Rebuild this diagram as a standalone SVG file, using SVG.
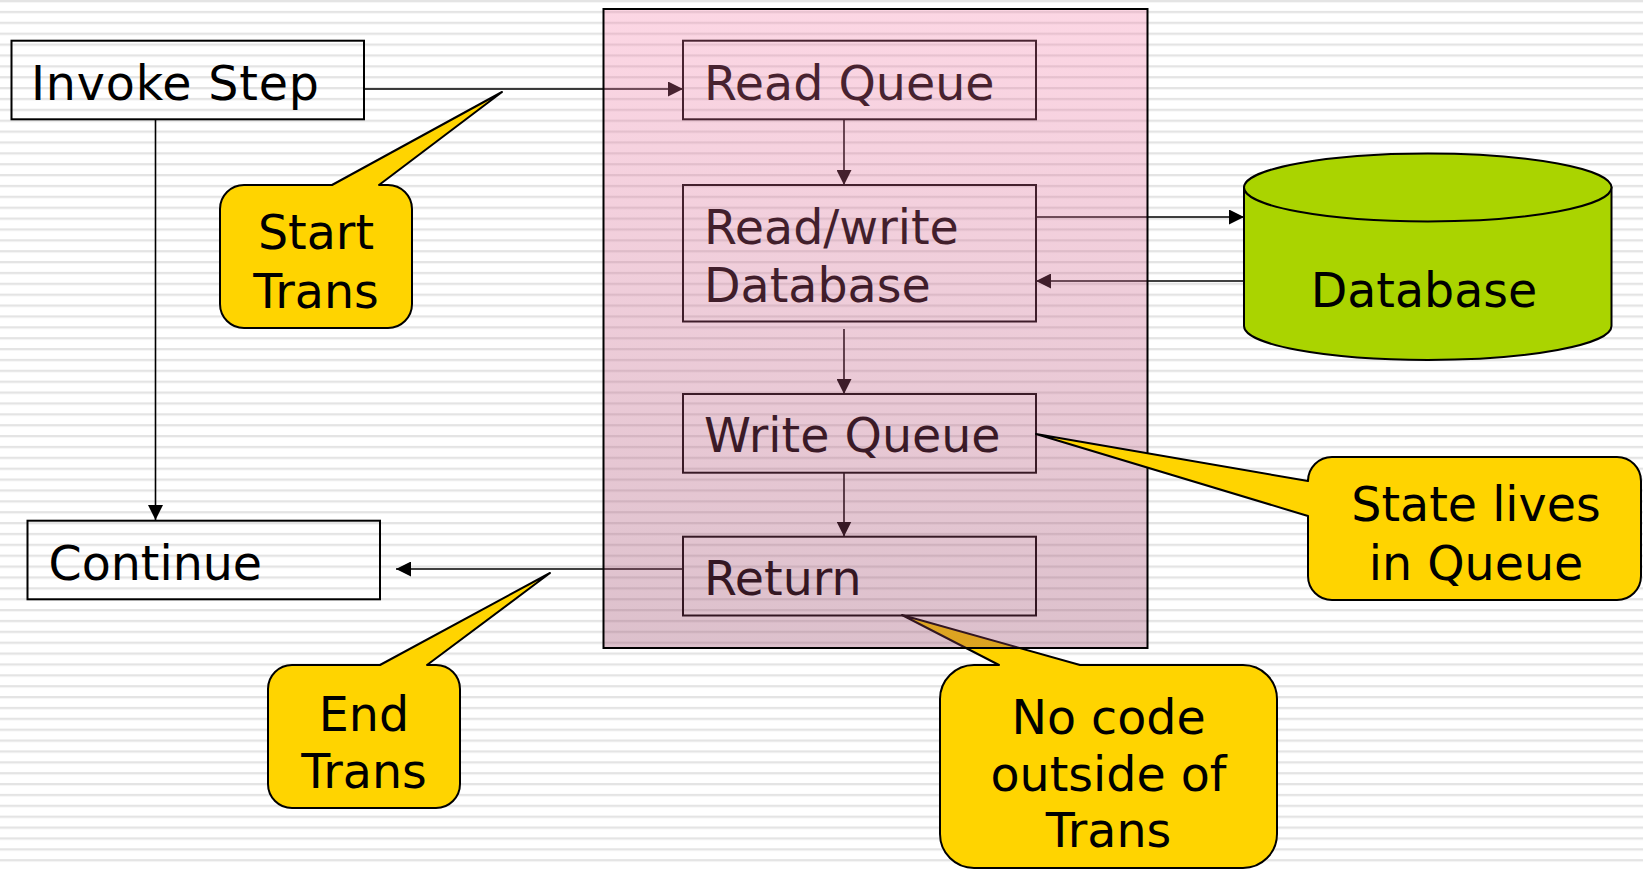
<svg xmlns="http://www.w3.org/2000/svg" width="1643" height="870" viewBox="0 0 1643 870">
  <defs>
    <pattern id="stripes" patternUnits="userSpaceOnUse" width="1643" height="10.875">
      <rect x="0" y="0" width="1643" height="2.3" fill="#e4e4e4"/>
    </pattern>
    <linearGradient id="txFill" x1="0" y1="0" x2="0" y2="1">
      <stop offset="0" stop-color="#f678a5" stop-opacity="0.3"/>
      <stop offset="1" stop-color="#964164" stop-opacity="0.33"/>
    </linearGradient>
    <marker id="arrow" markerUnits="userSpaceOnUse" markerWidth="15" markerHeight="15" refX="15" refY="7.5" orient="auto">
      <path d="M0,0 L15,7.5 L0,15 Z" fill="#000"/>
    </marker>
    <style>
      .box { fill: none; stroke: #000; stroke-width: 2; }
      .lbl { font-family: "DejaVu Sans", Verdana, sans-serif; font-size: 47.5px; fill: #000; }
      .mid { text-anchor: middle; }
      .conn { fill: none; stroke: #000; stroke-width: 1.6; marker-end: url(#arrow); }
      .callout { fill: #ffd400; stroke: #000; stroke-width: 2; stroke-linejoin: round; }
      .db { fill: #aad400; stroke: #000; stroke-width: 2; }
    </style>
  </defs>

  <!-- ruled background -->
  <rect x="0" y="0" width="1643" height="870" fill="#fff"/>
  <rect x="0" y="0" width="1643" height="870" fill="url(#stripes)"/>

  <!-- connectors -->
  <g id="connectors">
    <path class="conn" d="M364,89 L683,89"/>
    <path class="conn" d="M155.5,119.5 L155.5,520"/>
    <path class="conn" d="M844,119.5 L844,185"/>
    <path class="conn" d="M844,329 L844,394"/>
    <path class="conn" d="M844,472.7 L844,536.5"/>
    <path class="conn" d="M1036,217 L1244,217"/>
    <path class="conn" d="M1244,281 L1036,281"/>
    <path class="conn" d="M683,569 L396,569"/>
  </g>

  <g id="invoke-step">
    <rect class="box" x="11.5" y="40.7" width="352.5" height="78.6"/>
    <text class="lbl" x="31" y="99.5" textLength="288" lengthAdjust="spacing">Invoke Step</text>
  </g>

  <g id="continue">
    <rect class="box" x="27.5" y="520.7" width="352.5" height="78.6"/>
    <text class="lbl" x="48.5" y="579.5">Continue</text>
  </g>

  <g id="read-queue">
    <rect class="box" x="683" y="40.7" width="353" height="78.6"/>
    <text class="lbl" x="704" y="99.5">Read Queue</text>
  </g>

  <g id="read-write-db">
    <rect class="box" x="683" y="185" width="353" height="136.5"/>
    <text class="lbl" x="704" y="244">Read/write</text>
    <text class="lbl" x="704" y="301.5">Database</text>
  </g>

  <g id="write-queue">
    <rect class="box" x="683" y="394" width="353" height="78.7"/>
    <text class="lbl" x="704" y="452">Write Queue</text>
  </g>

  <g id="return">
    <rect class="box" x="683" y="536.7" width="353" height="78.8"/>
    <text class="lbl" x="704" y="595">Return</text>
  </g>

  <g id="start-trans">
    <path class="callout" d="M244,185 L332,185 L502,92 L379,185 L388,185 A24,24 0 0 1 412,209 L412,304 A24,24 0 0 1 388,328 L244,328 A24,24 0 0 1 220,304 L220,209 A24,24 0 0 1 244,185 Z"/>
    <text class="lbl mid" x="316" y="249">Start</text>
    <text class="lbl mid" x="316" y="307.5">Trans</text>
  </g>

  <g id="end-trans">
    <path class="callout" d="M292,665 L380,665 L550,573 L427,665 L436,665 A24,24 0 0 1 460,689 L460,784 A24,24 0 0 1 436,808 L292,808 A24,24 0 0 1 268,784 L268,689 A24,24 0 0 1 292,665 Z"/>
    <text class="lbl mid" x="364" y="730.5">End</text>
    <text class="lbl mid" x="364" y="788">Trans</text>
  </g>

  <g id="no-code">
    <path class="callout" d="M974,665 L999,665 L902,615 L1080,665 L1243,665 A34,34 0 0 1 1277,699 L1277,834 A34,34 0 0 1 1243,868 L974,868 A34,34 0 0 1 940,834 L940,699 A34,34 0 0 1 974,665 Z"/>
    <text class="lbl mid" x="1108.5" y="733.5">No code</text>
    <text class="lbl mid" x="1108.5" y="790.5">outside of</text>
    <text class="lbl mid" x="1108.5" y="847">Trans</text>
  </g>

  <!-- translucent transaction boundary laid over the steps inside it -->
  <g id="transaction">
    <rect x="603.5" y="9" width="544" height="639" fill="url(#txFill)" stroke="#000" stroke-width="2"/>
  </g>

  <g id="state-lives">
    <path class="callout" d="M1332,457 L1617,457 A24,24 0 0 1 1641,481 L1641,576 A24,24 0 0 1 1617,600 L1332,600 A24,24 0 0 1 1308,576 L1308,516 L1036,434 L1308,481 A24,24 0 0 1 1332,457 Z"/>
    <text class="lbl mid" x="1476" y="521">State lives</text>
    <text class="lbl mid" x="1476" y="579.5">in Queue</text>
  </g>

  <g id="database">
    <path class="db" d="M1244,187.5 L1244,326 A183.75,34 0 0 0 1611.5,326 L1611.5,187.5 Z"/>
    <ellipse class="db" cx="1427.75" cy="187.5" rx="183.75" ry="34"/>
    <text class="lbl mid" x="1424" y="307">Database</text>
  </g>
</svg>
